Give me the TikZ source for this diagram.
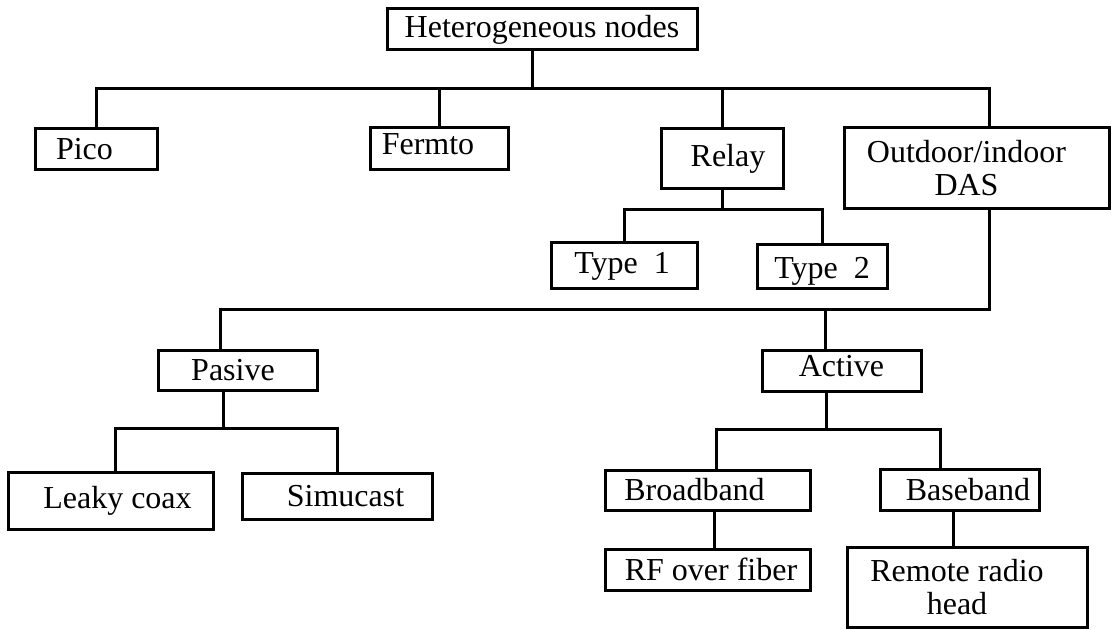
\documentclass[tikz,border=0pt]{standalone}
\usepackage{fontspec}
\setmainfont{Liberation Serif}
\usetikzlibrary{positioning}

\begin{document}
\begin{tikzpicture}[x=0.5pt,y=-0.5pt,
        every node/.style={font=\fontsize{16}{16.5}\selectfont},
        box/.style={draw,line width=1.5pt,inner sep=1pt,align=center},
        tx/.style={execute at begin node=\hspace*{#1}},
        link/.style={line width=1.5pt}]
    \useasboundingbox (0,0) rectangle (1112,630);

    % Root
    \node[box,minimum width=155pt,minimum height=20.5pt] (het) at (542,29.5) {Heterogeneous nodes};

    % First level
    \node[box,tx=-11.5pt,minimum width=61pt,minimum height=20.5pt] (pico) at (96,149.5) {Pico};
    \node[box,tx=-11pt,text depth=5pt,minimum width=69pt,minimum height=21pt] (fermto) at (439,149) {Fermto};
    \node[box,tx=6pt,minimum width=61pt,minimum height=30pt] (relay) at (722,159) {Relay};
    \node[box,minimum width=132.5pt,minimum height=40.5pt] (das) at (976.5,168.5)
        {\hspace*{-10pt}Outdoor/indoor\\\hspace*{-10pt}DAS};

    % Relay types
    \node[box,tx=-2pt,minimum width=73pt,minimum height=23pt] (type1) at (624,266) {Type\ \ 1};
    \node[box,text height=14.8pt,minimum width=65pt,minimum height=22pt] (type2) at (822,267) {Type\ \ 2};

    % DAS kinds
    \node[box,tx=-4.5pt,minimum width=79.5pt,minimum height=20pt] (pasive) at (237.5,370) {Pasive};
    \node[box,text depth=5pt,minimum width=79.5pt,minimum height=20.5pt] (active) at (841.5,370.5) {Active};

    % Passive DAS
    \node[box,tx=7pt,minimum width=102.5pt,minimum height=28.5pt] (leaky) at (110.5,500.5) {Leaky coax};
    \node[box,tx=8.5pt,minimum width=95pt,minimum height=23pt] (simucast) at (337,496) {Simucast};

    % Active DAS
    \node[box,tx=-13pt,minimum width=102.5pt,minimum height=20pt] (broadband) at (707.5,490) {Broadband};
    \node[box,tx=8.5pt,minimum width=79.5pt,minimum height=20.5pt] (baseband) at (959.5,489.5) {Baseband};
    \node[box,tx=3.5pt,minimum width=102.5pt,minimum height=20.5pt] (rf) at (707.5,569.5) {RF over fiber};
    \node[box,minimum width=120pt,minimum height=40pt] (remote) at (967,587)
        {\hspace*{-10pt}Remote radio\\\hspace*{-10pt}head};

    % Junctions
    \coordinate (jhet) at (532,89);
    \coordinate (jrel) at (722,210);
    \coordinate (jdas) at (989,310);
    \coordinate (jpas) at (223,428);
    \coordinate (jact) at (826,429);

    % Root to first level
    \draw[link] (het.south -| jhet) -- (jhet);
    \draw[link] (pico.north) |- (jhet) -| (das.north -| jdas);
    \draw[link] (fermto.north) -- (fermto.north |- jhet);
    \draw[link] (relay.north) -- (relay.north |- jhet);

    % Relay
    \draw[link] (relay.south) -- (jrel);
    \draw[link] (type1.north) |- (jrel) -| (type2.north);

    % DAS
    \draw[link] (das.south -| jdas) -- (jdas) -| ([xshift=-8.5pt]pasive.north);
    \draw[link] ([xshift=-8.25pt]active.north) -- ([xshift=-8.25pt]active.north |- jdas);

    % Passive
    \draw[link] ([xshift=-7.25pt]pasive.south) -- (jpas);
    \draw[link] ([xshift=2.25pt]leaky.north) |- (jpas) -| (simucast.north);

    % Active
    \draw[link] ([xshift=-7.75pt]active.south) -- (jact);
    \draw[link] ([xshift=4.25pt]broadband.north) |- (jact) -| ([xshift=-9.75pt]baseband.north);
    \draw[link] ([xshift=3.25pt]broadband.south) -- ([xshift=3.25pt]rf.north);
    \draw[link] ([xshift=-3.25pt]baseband.south) -- ([xshift=-3.25pt]baseband.south |- remote.north);

\end{tikzpicture}
\end{document}
